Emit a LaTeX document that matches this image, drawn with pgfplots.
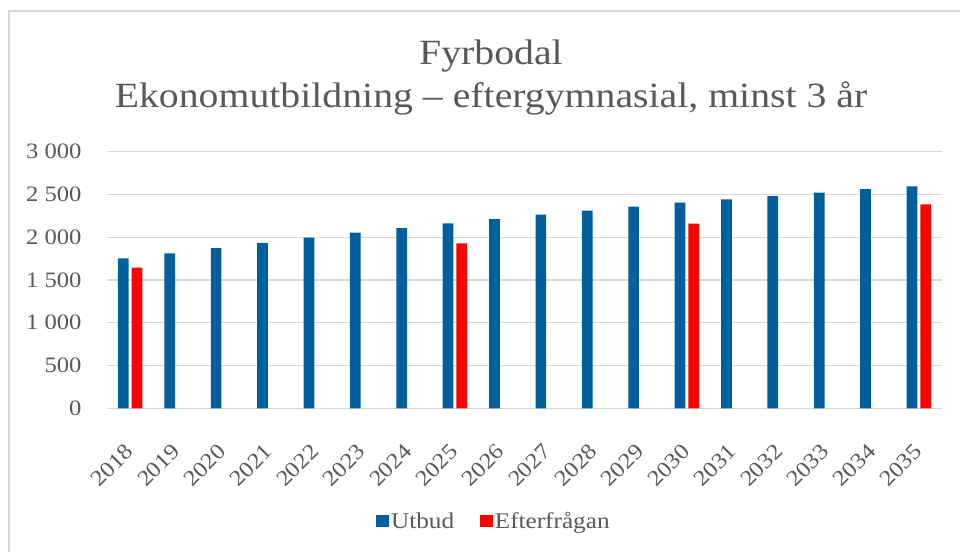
\documentclass[border=0pt]{standalone}
\usepackage{pgfplots}
\pgfplotsset{compat=1.18}
\usepackage{pgfplotstable}
\usepackage{fontspec}
\setmainfont{Liberation Serif}[FakeStretch=1.12]
\newfontfamily\titlefont{Liberation Serif}[FakeStretch=1.12]
\definecolor{utbud}{HTML}{00609C}
\definecolor{efter}{HTML}{FF0000}
\definecolor{txt}{HTML}{595959}
\definecolor{gridc}{HTML}{D9D9D9}
\pgfplotstableread{
x y
0 1754
1 1812
2 1874
3 1933
4 1995
5 2053
6 2105
7 2163
8 2213
9 2264
10 2311
11 2357
12 2404
13 2444
14 2482
15 2521
16 2561
17 2596
}\utbud
\pgfplotstableread{
x y
0 1644
7 1929
12 2159
17 2385
}\efter
\begin{document}
\begin{tikzpicture}[x=1pt,y=1pt]
\path[use as bounding box] (0,0) rectangle (960,551);
\fill[white] (0,0) rectangle (960,551);
\draw[gridc, line width=1.5pt] (9,-2) -- (9,540) -- (962,540);
\node[anchor=base, text=txt, font=\titlefont\fontsize{35.5}{40}\selectfont, inner sep=0pt] at (491,486) {Fyrbodal};
\node[anchor=base, text=txt, font=\titlefont\fontsize{35.5}{40}\selectfont, inner sep=0pt] at (491,443) {Ekonomutbildning – eftergymnasial, minst 3 år};
\begin{axis}[
  at={(107pt,142.7pt)}, anchor=south west,
  scale only axis, width=835pt, height=256.6pt,
  ymin=0, ymax=3000, xmin=-0.5, xmax=17.5,
  ybar=3pt, bar width=10.7pt,
  axis lines*=left,
  y axis line style={draw=none},
  x axis line style={draw=gridc, line width=1.3pt},
  ymajorgrids, grid style={draw=gridc, line width=1.3pt},
  major tick length=0pt, tick style={draw=none},
  ytick={0,500,...,3000},
  xtick={0,...,17},
  xticklabels={2018,2019,2020,2021,2022,2023,2024,2025,2026,2027,2028,2029,2030,2031,2032,2033,2034,2035},
  /pgf/number format/.cd, assume math mode=true, 1000 sep={\ },
  /pgfplots/.cd,
  yticklabel style={text=txt, font=\fontsize{22}{24}\selectfont, xshift=-22pt},
  xticklabel style={xshift=-6pt, yshift=-34pt, rotate=45, anchor=north east, text=txt, font=\fontsize{22}{24}\selectfont, inner sep=0pt},
  legend style={at={(0.4635,-0.439)}, anchor=center, draw=none, fill=none,
    font=\fontsize{22.5}{26}\selectfont, text=txt, legend columns=2,
    /tikz/every even column/.append style={column sep=24pt}},
  legend image code/.code={\fill[#1] (0pt,-6.35pt) rectangle (12.7pt,6.35pt);},
]
\addplot[fill=utbud, draw=none] table[x=x,y=y] {\utbud};
\addplot[fill=efter, draw=none] table[x=x,y=y] {\efter};
\legend{Utbud,Efterfrågan}
\end{axis}
\end{tikzpicture}
\end{document}
